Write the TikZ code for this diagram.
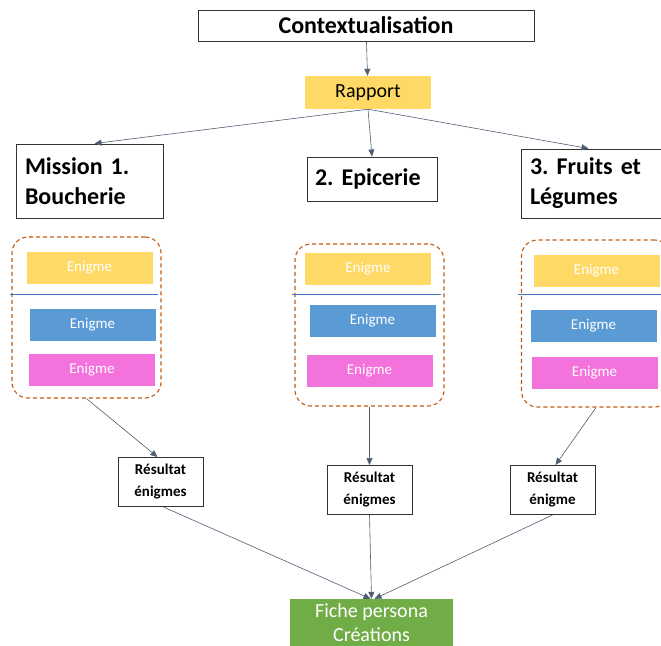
\documentclass[tikz,border=0pt]{standalone}
\usepackage{fontspec}
\setmainfont{Carlito}
\usetikzlibrary{arrows.meta}
\definecolor{jaune}{HTML}{FFD966}
\definecolor{bleu}{HTML}{5B9BD5}
\definecolor{rose}{HTML}{F472DC}
\definecolor{vert}{HTML}{70AD47}
\definecolor{orange}{HTML}{C55A11}
\definecolor{trait}{HTML}{4472C4}
\definecolor{fleche}{HTML}{4F5D73}
\frenchspacing

\begin{document}
\begin{tikzpicture}[x=1pt,y=-1pt,
  titre/.style={draw=black!80, line width=1pt, inner sep=0pt, font=\bfseries\fontsize{24}{30}\selectfont},
  mission/.style={titre, align=left, text width=#1, inner xsep=9pt},
  enigme/.style={fill=#1, draw=white, text=white, minimum width=127pt, minimum height=33pt, inner sep=0pt, font=\fontsize{15}{17}\selectfont},
  groupe/.style={draw=orange, dashed, dash pattern=on 4pt off 3pt, line width=1.1pt, rounded corners=16pt, minimum width=#1},
  resultat/.style={draw=black!80, line width=1pt, align=center, minimum width=85pt, minimum height=49pt, inner sep=0pt, font=\bfseries\fontsize{15}{22}\selectfont},
  fl/.style={draw=fleche, line width=0.6pt, -{Triangle[width=6pt,length=7pt]}}]
\useasboundingbox (0,0) rectangle (661,645);

% haut
\node[titre, minimum width=336pt, minimum height=31pt] (ctx) at (366,25.5) {Contextualisation};
\node[fill=jaune, minimum width=126pt, minimum height=33pt, inner sep=0pt, font=\fontsize{20}{24}\selectfont] (rapport) at (368,92.5) {Rapport};

% missions
\node[mission=129pt, minimum height=74pt] (m1) at (89.5,181) {Mission 1.\\Boucherie};
\node[titre, minimum width=130pt, minimum height=44pt, text width=114pt, align=left] (m2) at (372,179) {2. Epicerie};
\node[mission=129pt, minimum height=69pt] (m3) at (594.5,183.5) {3. Fruits et\\Légumes};

% groupes d'enigmes
\node[groupe=149pt, minimum height=161pt] (g1) at (86.5,317.5) {};
\node[groupe=149pt, minimum height=162pt] (g2) at (369.5,325) {};
\node[groupe=149pt, minimum height=167pt] (g3) at (596,323.5) {};

\node[enigme=jaune] (e11) at (89.5,267.5) {Enigme};
\node[enigme=bleu] (e12) at (92.5,324.5) {Enigme};
\node[enigme=rose] (e13) at (92,369.5) {Enigme};
\draw[trait, line width=1pt] (10,294) -- (158,294);

\node[enigme=jaune] (e21) at (368,268.5) {Enigme};
\node[enigme=bleu] (e22) at (372.5,320.5) {Enigme};
\node[enigme=rose] (e23) at (369.5,370.5) {Enigme};
\draw[trait, line width=1pt] (292,294) -- (441,294);

\node[enigme=jaune] (e31) at (596.5,270.5) {Enigme};
\node[enigme=bleu] (e32) at (593.5,325.5) {Enigme};
\node[enigme=rose] (e33) at (594.5,372.5) {Enigme};
\draw[trait, line width=1pt] (518,294) -- (661,294);

% resultats
\node[resultat] (r1) at (160.5,482) {Résultat\\énigmes};
\node[resultat] (r2) at (369.5,490) {Résultat\\énigmes};
\node[resultat] (r3) at (552.5,490) {Résultat\\énigme};

\node[fill=vert, text=white, align=center, minimum width=163pt, minimum height=48pt, inner sep=0pt, font=\fontsize{20}{24}\selectfont] (fiche) at (371.5,623) {Fiche persona\\Créations};

% fleches
\draw[fl] (ctx) -- (rapport);
\draw[fl] (rapport.south) -- ([xshift=5pt]m1.north);
\draw[fl] (rapport.south) -- (m2.north);
\draw[fl] (rapport.south) -- ([xshift=-6pt]m3.north);
\draw[fl] (g1.south) -- ([xshift=-3pt]r1.north);
\draw[fl] (g2.south) -- (r2.north);
\draw[fl] (g3.south) -- ([xshift=3pt]r3.north);
\draw[fl] ([xshift=3pt]r1.south) -- ([xshift=-1pt]fiche.north);
\draw[fl] (r2.south) -- (fiche.north);
\draw[fl] (r3.south) -- ([xshift=3pt]fiche.north);
\end{tikzpicture}
\end{document}
